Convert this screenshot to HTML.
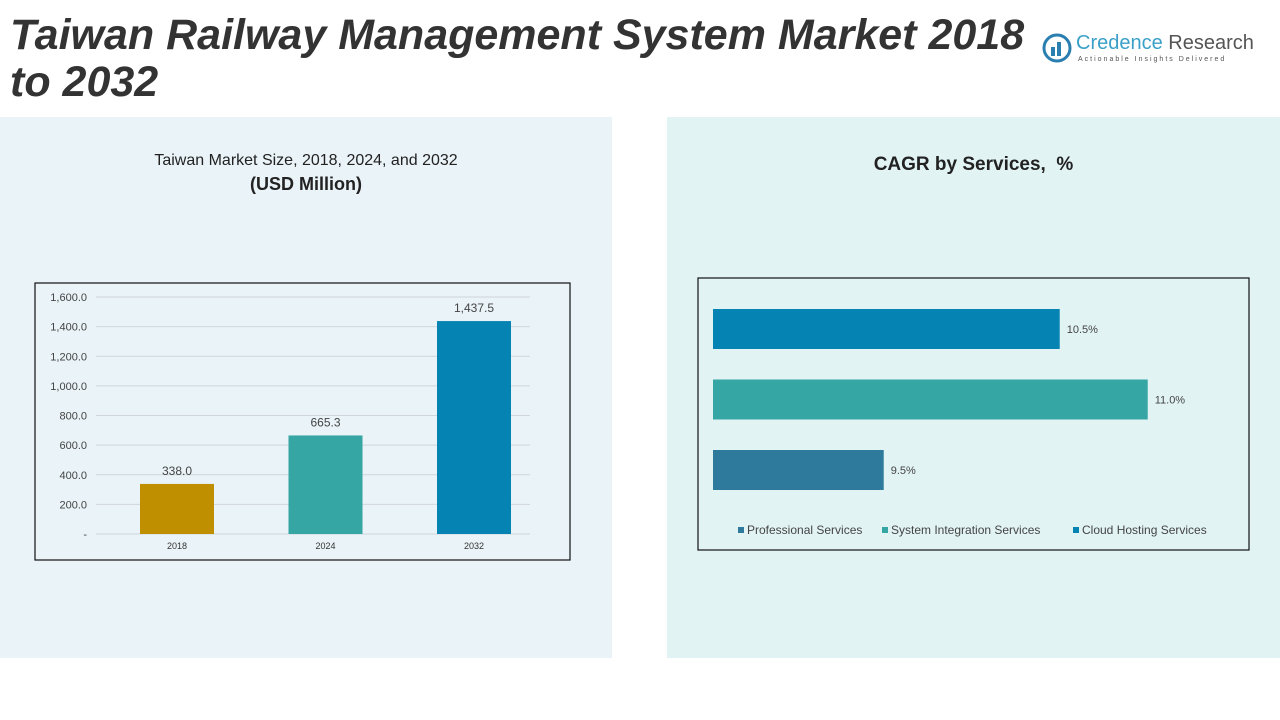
<!DOCTYPE html>
<html><head><meta charset="utf-8"><style>
body{margin:0;width:1280px;height:720px;background:#fff;position:relative;overflow:hidden;font-family:"Liberation Sans",sans-serif}
.abs{position:absolute}
</style></head><body>
<div class="abs" style="left:0;top:117px;width:612px;height:541px;background:#eaf3f8"></div>
<div class="abs" style="left:667px;top:117px;width:613px;height:541px;background:#e2f3f4"></div>
<div class="abs" style="left:10px;top:12px;font-size:43px;font-weight:bold;font-style:italic;color:#333;line-height:47px;white-space:nowrap">Taiwan Railway Management System Market 2018<br>to 2032</div>
<div class="abs" style="left:1042px;top:32px;width:230px;height:36px">
<svg width="32" height="32" style="position:absolute;left:0;top:0"><circle cx="15" cy="16" r="13" fill="none" stroke="#2a7fb0" stroke-width="3"/><rect x="9" y="15" width="4" height="9" fill="#2a7fb0"/><rect x="15" y="10" width="4" height="14" fill="#2a7fb0"/></svg>
<div class="abs" style="left:34px;top:0;font-size:20px;color:#3aa0c8;white-space:nowrap">Credence <span style="color:#555">Research</span></div>
<div class="abs" style="left:36px;top:24px;font-size:7px;letter-spacing:2px;color:#555;white-space:nowrap">Actionable Insights Delivered</div>
</div>
<div class="abs" style="left:0;top:152px;width:612px;text-align:center;font-size:16px;color:#222">Taiwan Market Size, 2018, 2024, and 2032<br><b style="font-size:18px;line-height:28px">(USD Million)</b></div>
<div class="abs" style="left:667px;top:154px;width:613px;text-align:center;font-size:19px;font-weight:bold;color:#222">CAGR by Services, &nbsp;%</div>
<svg class="abs" style="left:0;top:0" width="1280" height="720" id="svg">
<rect x="35" y="283" width="535" height="277" fill="none" stroke="#111" stroke-width="1.2"/>
<rect x="698" y="278" width="551" height="272" fill="none" stroke="#111" stroke-width="1.2"/>
</svg>
<script>
const years=["2018","2024","2032"];
const sizes=[338.0,665.3,1437.5];
const yTicks=[0,200,400,600,800,1000,1200,1400,1600];
const services=["Cloud Hosting Services","System Integration Services","Professional Services"];
const cagr=[10.5,11.0,9.5];
const legendOrder=["Professional Services","System Integration Services","Cloud Hosting Services"];
const NS="http://www.w3.org/2000/svg",svg=document.getElementById('svg');
function mk(t,a,txt){const e=document.createElementNS(NS,t);for(const k in a)e.setAttribute(k,a[k]);if(txt!==undefined)e.textContent=txt;svg.appendChild(e);return e;}
const y=v=>534-v*237/1600, xc=i=>177+i*148.5;
const barCols=["#bf8f00","#35a6a4","#0583b3"];
yTicks.forEach(t=>{
 const l=mk('line',{x1:96,x2:530,y1:y(t),y2:y(t),stroke:'#d0d6da','stroke-width':1});
 
 
 const s=mk('text',{x:87,y:y(t)+4,'text-anchor':'end','font-size':11,fill:'#444'},t===0?'-':t.toLocaleString('en-US',{minimumFractionDigits:1}));
 
 
});
sizes.forEach((v,i)=>{
 const r=mk('rect',{x:xc(i)-37,y:y(v),width:74,height:y(0)-y(v),fill:barCols[i]});
 
 
 const t=mk('text',{x:xc(i),y:y(v)-9,'text-anchor':'middle','font-size':12,fill:'#444'},v.toLocaleString('en-US',{minimumFractionDigits:1}));
 
 
 const c=mk('text',{x:xc(i),y:549,'text-anchor':'middle','font-size':9,fill:'#333'},years[i]);
 
 
});
const hx=v=>713+(v-8.53)*176, hy=i=>309+i*70.5;
const hCols={"Cloud Hosting Services":"#0583b3","System Integration Services":"#35a6a4","Professional Services":"#2e7a9c"};
cagr.forEach((v,i)=>{
 const r=mk('rect',{x:713,y:hy(i),width:hx(v)-713,height:40,fill:hCols[services[i]]});
 
 
 const t=mk('text',{x:hx(v)+7,y:hy(i)+24,'font-size':11,fill:'#444'},v.toFixed(1)+'%');
 
 
});
const lx=[738,882,1073];
legendOrder.forEach((s,i)=>{
 const r=mk('rect',{x:lx[i],y:527,width:6,height:6,fill:hCols[s]});
 
 
 const t=mk('text',{x:lx[i]+9,y:534,'font-size':12,fill:'#444'},s);
 
 
});
</script>
</body></html>
